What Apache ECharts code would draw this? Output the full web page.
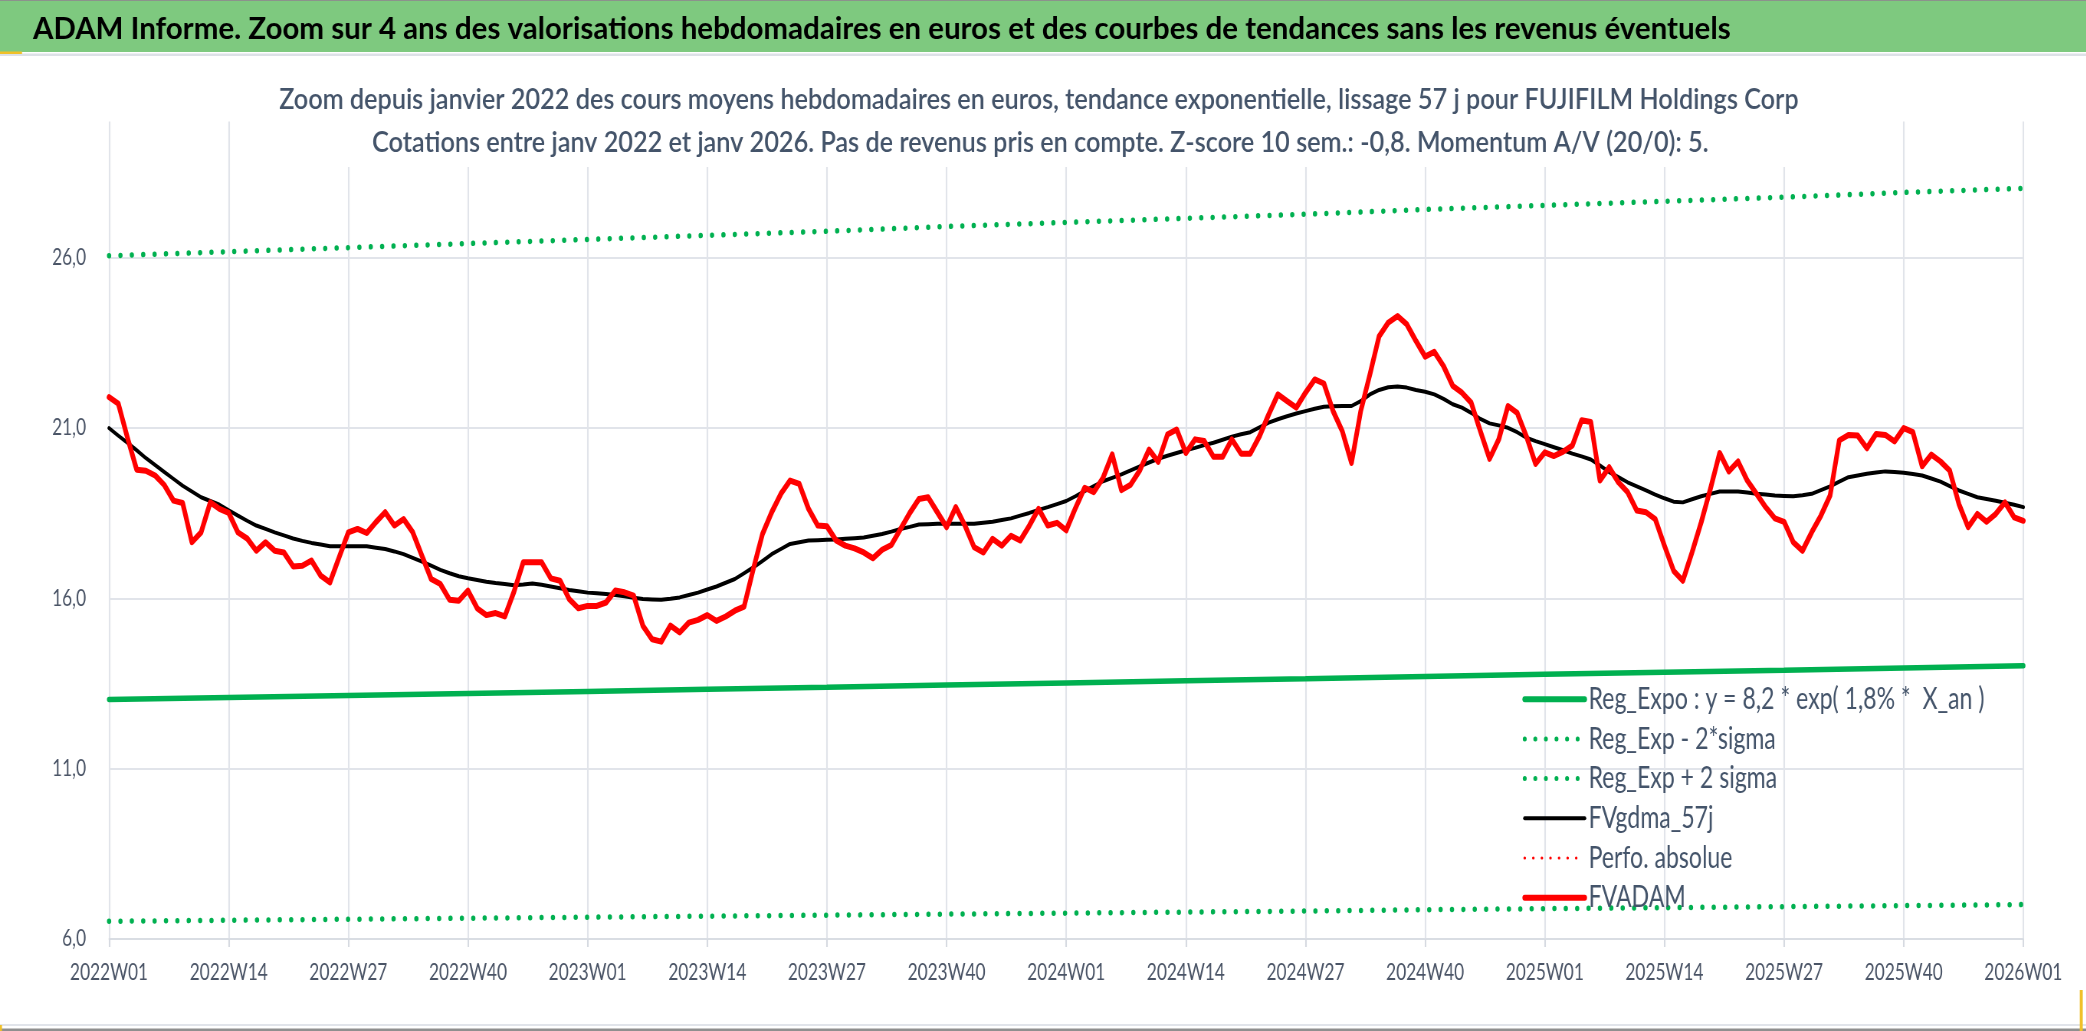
<!DOCTYPE html>
<html><head><meta charset="utf-8">
<script src="https://cdn.jsdelivr.net/npm/echarts@6/dist/echarts.min.js"></script>
<style>
html,body{margin:0;padding:0;overflow:hidden;background:#fff;width:2086px;height:1031px}
#c{position:absolute;left:0;top:0;height:1031px;transform-origin:0 0}
</style>
</head><body><div id="c"></div>
<script>
// ---------- data ----------
const years = [2022, 2023, 2024, 2025];
const weeksPerYear = 52;
const lastWeek = '2026W01';
const yTicks = [6, 11, 16, 21, 26];

const fvadam = [
21.91,21.72,20.72,19.78,19.75,19.61,19.33,18.87,18.80,17.65,
17.94,18.82,18.63,18.51,17.94,17.76,17.40,17.65,17.40,17.35,
16.94,16.96,17.11,16.67,16.47,17.21,17.94,18.04,17.92,18.24,
18.53,18.14,18.33,17.94,17.25,16.57,16.42,15.96,15.93,16.23,
15.71,15.51,15.57,15.47,16.20,17.06,17.06,17.06,16.59,16.52,
15.98,15.71,15.78,15.78,15.88,16.23,16.18,16.08,15.20,14.80,
14.73,15.20,15.00,15.29,15.37,15.51,15.34,15.47,15.64,15.76,
16.86,17.89,18.53,19.07,19.46,19.36,18.63,18.14,18.12,17.70,
17.55,17.47,17.35,17.18,17.43,17.57,18.04,18.51,18.92,18.97,
18.53,18.09,18.68,18.14,17.50,17.35,17.75,17.55,17.84,17.70,
18.14,18.63,18.14,18.22,18.00,18.65,19.25,19.12,19.54,20.23,
19.18,19.34,19.76,20.37,20.01,20.81,20.96,20.27,20.67,20.62,
20.16,20.16,20.67,20.25,20.25,20.76,21.40,21.99,21.79,21.60,
22.04,22.43,22.31,21.50,20.91,19.98,21.50,22.58,23.70,24.10,
24.29,24.05,23.56,23.10,23.24,22.82,22.24,22.04,21.75,20.91,
20.10,20.67,21.65,21.45,20.76,19.95,20.29,20.18,20.31,20.49,
21.23,21.18,19.46,19.85,19.41,19.12,18.58,18.53,18.33,17.55,
16.81,16.52,17.35,18.24,19.22,20.27,19.73,20.02,19.46,19.07,
18.68,18.35,18.25,17.65,17.40,17.94,18.43,19.02,20.64,20.80,
20.78,20.41,20.83,20.80,20.61,21.00,20.88,19.88,20.22,20.02,
19.75,18.77,18.09,18.48,18.25,18.48,18.82,18.38,18.28
];

const fvgdma = [
21.00,20.78,20.57,20.35,20.12,19.92,19.71,19.51,19.31,19.14,
18.97,18.86,18.75,18.59,18.43,18.28,18.14,18.04,17.94,17.85,
17.76,17.69,17.63,17.58,17.53,17.53,17.53,17.53,17.53,17.49,
17.45,17.38,17.30,17.19,17.08,16.96,16.84,16.74,16.65,16.59,
16.54,16.49,16.45,16.42,16.39,16.41,16.44,16.40,16.35,16.30,
16.25,16.21,16.17,16.15,16.13,16.10,16.06,16.02,15.98,15.97,
15.96,15.99,16.03,16.10,16.17,16.26,16.35,16.46,16.57,16.74,
16.91,17.10,17.30,17.45,17.60,17.65,17.70,17.71,17.72,17.73,
17.75,17.77,17.79,17.84,17.89,17.96,18.04,18.10,18.17,18.18,
18.19,18.19,18.19,18.19,18.19,18.22,18.25,18.30,18.35,18.43,
18.51,18.60,18.68,18.77,18.86,19.00,19.15,19.30,19.44,19.54,
19.64,19.76,19.88,19.99,20.10,20.19,20.27,20.35,20.42,20.50,
20.57,20.66,20.75,20.82,20.88,21.02,21.16,21.26,21.35,21.43,
21.50,21.57,21.63,21.64,21.65,21.65,21.79,21.99,22.12,22.20,
22.22,22.19,22.12,22.07,21.99,21.86,21.70,21.60,21.45,21.27,
21.14,21.08,21.01,20.88,20.72,20.62,20.53,20.44,20.35,20.25,
20.17,20.08,19.90,19.71,19.56,19.41,19.29,19.17,19.05,18.94,
18.84,18.82,18.91,19.00,19.07,19.14,19.14,19.14,19.11,19.07,
19.05,19.02,19.01,19.00,19.03,19.07,19.18,19.29,19.43,19.56,
19.61,19.66,19.70,19.73,19.71,19.69,19.65,19.61,19.52,19.43,
19.30,19.17,19.07,18.97,18.92,18.87,18.81,18.75,18.68
];

// trend lines, read every 13 weeks (at each labelled week)
const regExpo = [13.03,13.09,13.15,13.21,13.27,13.33,13.39,13.46,13.52,13.58,13.64,13.71,13.77,13.83,13.89,13.96,14.02];
const regHigh = [26.06,26.18,26.30,26.42,26.54,26.66,26.78,26.92,27.04,27.16,27.28,27.42,27.54,27.66,27.78,27.92,28.04];
const regLow  = [6.52,6.55,6.58,6.61,6.64,6.67,6.70,6.73,6.76,6.79,6.82,6.86,6.89,6.92,6.95,6.98,7.01];
const trendStep = 13;

const titleText = 'ADAM Informe. Zoom sur 4 ans des valorisations hebdomadaires en euros et des courbes de tendances sans les revenus éventuels';
const sub1 = 'Zoom depuis janvier 2022 des cours moyens hebdomadaires en euros, tendance exponentielle, lissage 57 j pour FUJIFILM Holdings Corp';
const sub2 = 'Cotations entre janv 2022 et janv 2026. Pas de revenus pris en compte. Z-score 10 sem.: -0,8. Momentum A/V (20/0): 5.';
const names = ['Reg_Expo : y = 8,2 * exp( 1,8% *  X_an )', 'Reg_Exp - 2*sigma', 'Reg_Exp + 2 sigma', 'FVgdma_57j', 'Perfo. absolue', 'FVADAM'];

// ---------- build ----------
const weeks = [];
years.forEach(y => { for (let w = 1; w <= weeksPerYear; w++) weeks.push(y + 'W' + String(w).padStart(2, '0')); });
weeks.push(lastWeek);
function expand(arr) {
  const out = new Array(weeks.length).fill(null);
  arr.forEach((v, k) => { out[k * trendStep] = v; });
  return out;
}

const FONT = 'Lato, "Open Sans", sans-serif';
const mctx = document.createElement('canvas').getContext('2d');
function mw(text, weight, size) { mctx.font = weight + ' ' + size + 'px ' + FONT; return mctx.measureText(text); }
const capRatio = mw('H', 'bold', 100).actualBoundingBoxAscent / 100;
const digitRatio = mw('0', 'normal', 100).actualBoundingBoxAscent / 100;
// global horizontal squeeze, taken from the axis labels (digit height 16.7px, label width 78px)
const axisSize = 16.7 / digitRatio;
const S = 78 / mw('2022W01', 'normal', axisSize).width;
const W = 2086 / S;
function fit(text, weight, target) { return 100 * target / (S * mw(text, weight, 100).width); }
const legSize = fit(names[0], 'normal', 396);
// per-text squeeze for the headings
const titleSize = 21.7 / capRatio;
const titleK = 1697 / (S * mw(titleText, 'bold', titleSize).width);
const subSize = 20.7 / capRatio;
const sub1K = 1519 / (S * mw(sub1, '600', subSize).width);
const sub2K = 1336 / (S * mw(sub2, '600', subSize).width);

const dom = document.getElementById('c');
dom.style.width = W + 'px';
dom.style.transform = 'scaleX(' + S + ')';
const chart = echarts.init(dom, null, {renderer: 'canvas', width: W, height: 1031});

const green = '#00b050';
const gridCol = '#e1e4ea';
const labelCol = '#4a5466';
const dots = (sp) => [0.1, sp / S];

const option = {
  animation: false,
  backgroundColor: '#ffffff',
  grid: {left: 109 / S, right: 63.4 / S, top: 121.6, bottom: 92, containLabel: false},
  xAxis: {
    type: 'category', data: weeks, boundaryGap: false,
    axisLine: {show: true, lineStyle: {color: '#d6dae1', width: 1.5}},
    axisTick: {show: true, interval: 12, length: 8, lineStyle: {color: '#d6dae1', width: 1.6 / S}},
    axisLabel: {interval: 12, margin: 22, fontFamily: FONT, fontSize: axisSize, color: labelCol, lineHeight: 24},
    splitLine: {show: true, interval: 12, lineStyle: {color: gridCol, width: 1.6 / S}}
  },
  yAxis: {
    type: 'value', min: 6, max: 30,
    axisLine: {show: false},
    axisTick: {show: false, customValues: yTicks},
    axisLabel: {customValues: yTicks, margin: 23 / S, fontFamily: FONT, fontSize: axisSize, color: labelCol,
      formatter: v => v.toFixed(1).replace('.', ',')},
    splitLine: {show: true, lineStyle: {color: gridCol, width: 2}}
  },
  legend: {
    orient: 'vertical', left: 1518 / S, top: 679.2, itemWidth: 60 / S, itemHeight: 14, itemGap: 9.7,
    selectedMode: false,
    textStyle: {fontFamily: FONT, fontSize: legSize, color: '#44546a', lineHeight: 30},
    data: [
      {name: names[0], lineStyle: {color: green, width: 6, type: 'solid', cap: 'round'}, itemStyle: {opacity: 0}},
      {name: names[1], lineStyle: {color: green, width: 5, type: dots(10.5), cap: 'round'}, itemStyle: {opacity: 0}},
      {name: names[2], lineStyle: {color: green, width: 5, type: dots(10.5), cap: 'round'}, itemStyle: {opacity: 0}},
      {name: names[3], lineStyle: {color: '#000000', width: 4, type: 'solid', cap: 'round'}, itemStyle: {opacity: 0}},
      {name: names[4], lineStyle: {color: '#ff0000', width: 3.2, type: dots(8.5), cap: 'round'}, itemStyle: {opacity: 0}},
      {name: names[5], lineStyle: {color: '#ff0000', width: 6, type: 'solid', cap: 'round'}, itemStyle: {opacity: 0}}
    ]
  },
  series: [
    {name: names[0], type: 'line', data: expand(regExpo), connectNulls: true, symbol: 'none', z: 2,
      lineStyle: {color: green, width: 5.5, cap: 'round'}, emphasis: {disabled: true}},
    {name: names[1], type: 'line', data: expand(regLow), connectNulls: true, symbol: 'none', z: 2,
      lineStyle: {color: green, width: 5.5, type: dots(11.3), cap: 'round'}, emphasis: {disabled: true}},
    {name: names[2], type: 'line', data: expand(regHigh), connectNulls: true, symbol: 'none', z: 2,
      lineStyle: {color: green, width: 5.5, type: dots(11.3), cap: 'round'}, emphasis: {disabled: true}},
    {name: names[3], type: 'line', data: fvgdma, symbol: 'none', z: 3,
      lineStyle: {color: '#000000', width: 4, cap: 'round', join: 'round'}, emphasis: {disabled: true}},
    {name: names[4], type: 'line', data: [], symbol: 'none', z: 3,
      lineStyle: {color: '#ff0000', width: 3, type: dots(8.5), cap: 'round'}, emphasis: {disabled: true}},
    {name: names[5], type: 'line', data: fvadam, symbol: 'none', z: 4,
      lineStyle: {color: '#ff0000', width: 6, cap: 'round', join: 'round'}, emphasis: {disabled: true}}
  ],
  graphic: [
    {type: 'rect', z: 10, silent: true, shape: {x: 0, y: 0, width: W, height: 52}, style: {fill: '#7ec97f'}},
    {type: 'rect', z: 11, silent: true, shape: {x: 0, y: 0, width: W, height: 1}, style: {fill: '#8c928c'}},
    {type: 'rect', z: 11, silent: true, shape: {x: 0, y: 53.5, width: W, height: 2.5}, style: {fill: '#dde1e7'}},
    {type: 'rect', z: 11, silent: true, shape: {x: 0, y: 51.5, width: 22 / S, height: 2.5}, style: {fill: '#f0c028'}},
    {type: 'text', z: 12, silent: true, x: 33 / S, y: 29.2, scaleX: titleK,
      style: {text: titleText, fontFamily: FONT, fontWeight: 'bold', fontSize: titleSize, fill: '#000000', align: 'left', verticalAlign: 'middle'}},
    {type: 'rect', z: 10, silent: true, shape: {x: 250 / S, y: 112, width: 1585 / S, height: 55}, style: {fill: '#ffffff'}},
    {type: 'text', z: 12, silent: true, x: 279 / S, y: 99.7, scaleX: sub1K,
      style: {text: sub1, fontFamily: FONT, fontWeight: 600, fontSize: subSize, fill: '#44546a', align: 'left', verticalAlign: 'middle'}},
    {type: 'text', z: 12, silent: true, x: 372 / S, y: 142.5, scaleX: sub2K,
      style: {text: sub2, fontFamily: FONT, fontWeight: 600, fontSize: subSize, fill: '#44546a', align: 'left', verticalAlign: 'middle'}},
    {type: 'rect', z: 11, silent: true, shape: {x: 0, y: 1024, width: W, height: 2}, style: {fill: '#e1e4ea'}},
    {type: 'rect', z: 11, silent: true, shape: {x: 0, y: 1028.5, width: W, height: 2.5}, style: {fill: '#8f8f8f'}},
    {type: 'rect', z: 12, silent: true, shape: {x: 2079 / S, y: 990, width: 3 / S, height: 41}, style: {fill: '#f0c028'}},
    {type: 'rect', z: 12, silent: true, shape: {x: 0, y: 1025, width: 2 / S, height: 6}, style: {fill: '#f0c028'}}
  ]
};
chart.setOption(option);
</script>
</body></html>
